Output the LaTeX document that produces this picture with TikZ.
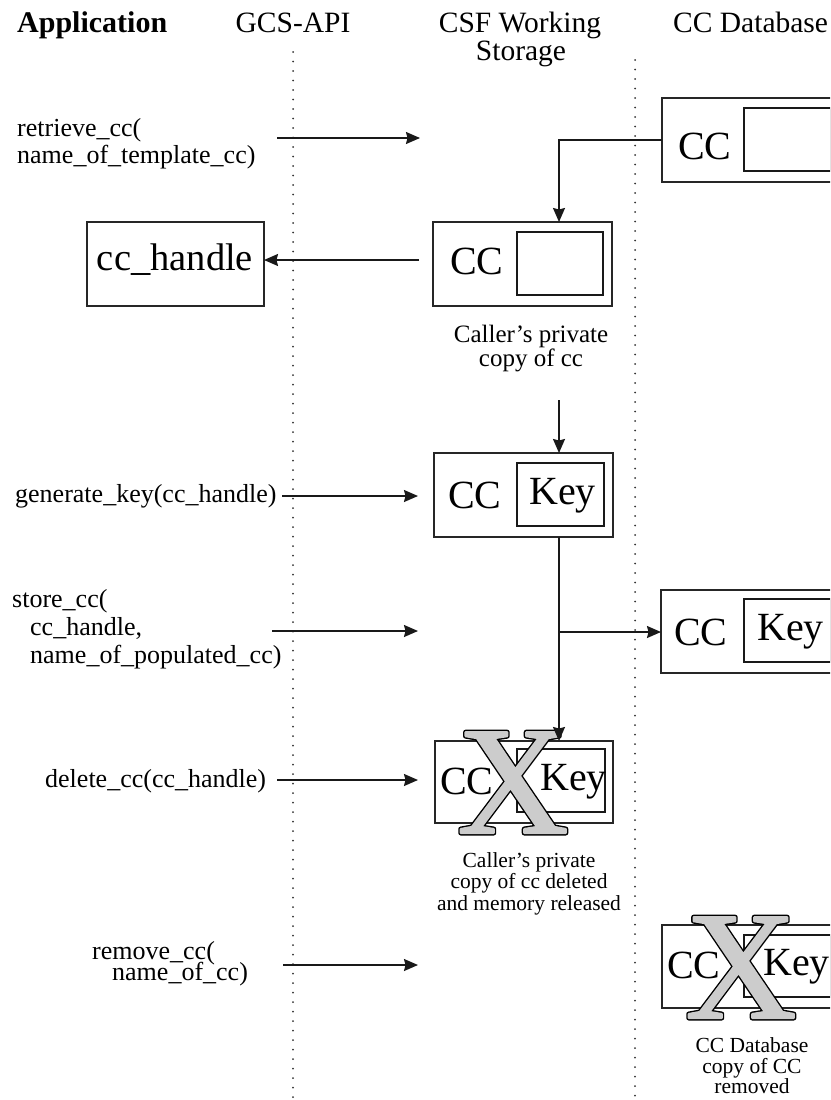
\documentclass[tikz,border=0pt]{standalone}
\usepackage{fontspec}
\setmainfont{Liberation Serif}
\usetikzlibrary{arrows.meta,calc}
\newcommand{\bigX}{\rlap{\special{pdf:literal direct 0 g 0 G 5 w 1 j 2 Tr}X}\special{pdf:literal direct 0.8 g 0.8 G 2.2 w 2 Tr}X\special{pdf:literal direct 0 Tr 0 g 0 G 1 w 0 j}}
\begin{document}
\begin{tikzpicture}[x=1pt,y=-1pt,
  box/.style={draw=black!85, line width=1.2pt, inner sep=0pt, outer sep=0pt, anchor=north west, minimum width=179pt, minimum height=84pt},
  ibox/.style={draw=black!90, line width=1.6pt, inner sep=0pt, outer sep=0pt, anchor=north west, minimum width=87pt, minimum height=63pt},
  big/.style={font=\fontsize{40}{40}\selectfont, inner sep=0pt, anchor=base west},
  lbl/.style={font=\fontsize{26}{28}\selectfont, inner sep=0pt, anchor=base west, text height=17pt, text depth=5pt},
  hdr/.style={font=\fontsize{29.5}{28}\selectfont, inner sep=0pt, anchor=base},
  capt/.style={font=\fontsize{25}{24}\selectfont, inner sep=0pt, anchor=base, text height=17pt, text depth=5pt},
  scapt/.style={font=\fontsize{21.5}{21.5}\selectfont, inner sep=0pt, anchor=base, text height=14pt, text depth=4pt},
  arr/.style={line width=1.6pt, draw=black!90, -{Stealth[length=14pt,width=12pt,inset=1.5pt]}},
  lane/.style={line width=2pt, dash pattern=on 0pt off 9.5pt, line cap=round, draw=black!80},
  xmark/.style={font=\fontsize{154}{154}\selectfont, inner sep=0pt, anchor=base}
]
\useasboundingbox (0,0) rectangle (830,1100);
\clip (0,0) rectangle (830,1100);

% headers
\node[hdr, anchor=base west, font=\bfseries\fontsize{30}{28}\selectfont] (hApp) at (17,32) {Application};
\node[hdr] (hGCS) at (293,32) {GCS-API};
\node[hdr] (hCSF1) at (520,32) {CSF Working};
\node[hdr] (hCSF2) at (521,60) {Storage};
\node[hdr, anchor=base west] (hDB) at (673,32) {CC Database};

% swim lane separators
\draw[lane] (293,52) -- (293,1100);
\draw[lane] (635,60) -- (635,1100);

% left labels
\node[lbl] (retr1) at (17,136) {retrieve\_cc(};
\node[lbl] (retr2) at (17,163) {name\_of\_template\_cc)};
\node[lbl] (gen) at (15,502) {generate\_key(cc\_handle)};
\node[lbl] (stor1) at (12,607) {store\_cc(};
\node[lbl] (stor2) at (30,635) {cc\_handle,};
\node[lbl] (stor3) at (30,663) {name\_of\_populated\_cc)};
\node[lbl] (del) at (45,787) {delete\_cc(cc\_handle)};
\node[lbl, text height=15pt, text depth=4pt] (rem1) at (92,959) {remove\_cc(};
\node[lbl, text height=15pt, text depth=4pt] (rem2) at (112,980) {name\_of\_cc)};

% cc_handle box
\node[box, minimum width=177pt] (hbox) at (87,222) {};
\node[big, anchor=base, font=\fontsize{38.5}{40}\selectfont] (htxt) at (175,270) {cc\_handle};

% DB1
\node[box] (DB1) at (662,98) {};
\node[ibox] (DB1i) at (744,108) {};
\node[big] (DB1c) at (678,159) {CC};

% WS1
\node[box] (WS1) at (433,222) {};
\node[ibox, minimum width=86pt] (WS1i) at (517,232) {};
\node[big] (WS1c) at (450,274) {CC};
\node[capt] (c1a) at (531,342) {Caller's private};
\node[capt] (c1b) at (531,366) {copy of cc};

% WS2
\node[box] (WS2) at (434,453) {};
\node[ibox] (WS2i) at (517,463) {};
\node[big] (WS2c) at (448,508) {CC};
\node[big] (WS2k) at (529,504) {Key};

% DB2
\node[box, minimum height=83pt] (DB2) at (661,590) {};
\node[ibox] (DB2i) at (744,599) {};
\node[big] (DB2c) at (674,645) {CC};
\node[big] (DB2k) at (757,640) {Key};

% WS3 (deleted)
\node[box, minimum width=178pt, minimum height=82pt] (WS3) at (435,741) {};
\node[ibox, minimum width=88pt] (WS3i) at (517,749) {};
\node[big] (WS3c) at (440,794) {CC};
\node[big] (WS3k) at (540,790) {Key};
\node[xmark] (WS3x) at (513,833) {\bigX};
\node[scapt] (c2a) at (529,867) {Caller's private};
\node[scapt] (c2b) at (529,888) {copy of cc deleted};
\node[scapt] (c2c) at (529,910) {and memory released};

% DB3 (removed)
\node[box, minimum height=83pt] (DB3) at (662,925) {};
\node[ibox, minimum height=62pt] (DB3i) at (744,935) {};
\node[big] (DB3c) at (667,978) {CC};
\node[big] (DB3k) at (763,975) {Key};
\node[xmark] (DB3x) at (741,1018) {\bigX};
\node[scapt] (c3a) at (752,1052) {CC Database};
\node[scapt] (c3b) at (752,1073) {copy of CC};
\node[scapt] (c3c) at (752,1093) {removed};

% connectors
\coordinate (colWS) at (559,0);
\coordinate (r1s) at (277,138);
\coordinate (r1e) at (420,138);
\coordinate (h1s) at (419,260);
\coordinate (k1s) at (559,400);
\coordinate (g1s) at (282,496);
\coordinate (g1e) at (418,496);
\coordinate (s1s) at (272,631);
\coordinate (s1e) at (418,631);
\coordinate (br) at (559,632);
\coordinate (d1s) at (277,780);
\coordinate (d1e) at (418,780);
\coordinate (m1s) at (283,965);
\coordinate (m1e) at (418,965);

\draw[arr] (r1s) -- (r1e);
\draw[arr] (DB1.west) -| (colWS |- WS1.north);
\draw[arr] (h1s) -- (hbox.east |- h1s);
\draw[arr] (k1s) -- (colWS |- WS2.north);
\draw[arr] (g1s) -- (g1e);
\draw[arr] (s1s) -- (s1e);
\draw[arr] (colWS |- WS2.south) -- (colWS |- WS3.north);
\draw[arr] (br) -- (br -| DB2.west);
\draw[arr] (d1s) -- (d1e);
\draw[arr] (m1s) -- (m1e);
\end{tikzpicture}
\end{document}
